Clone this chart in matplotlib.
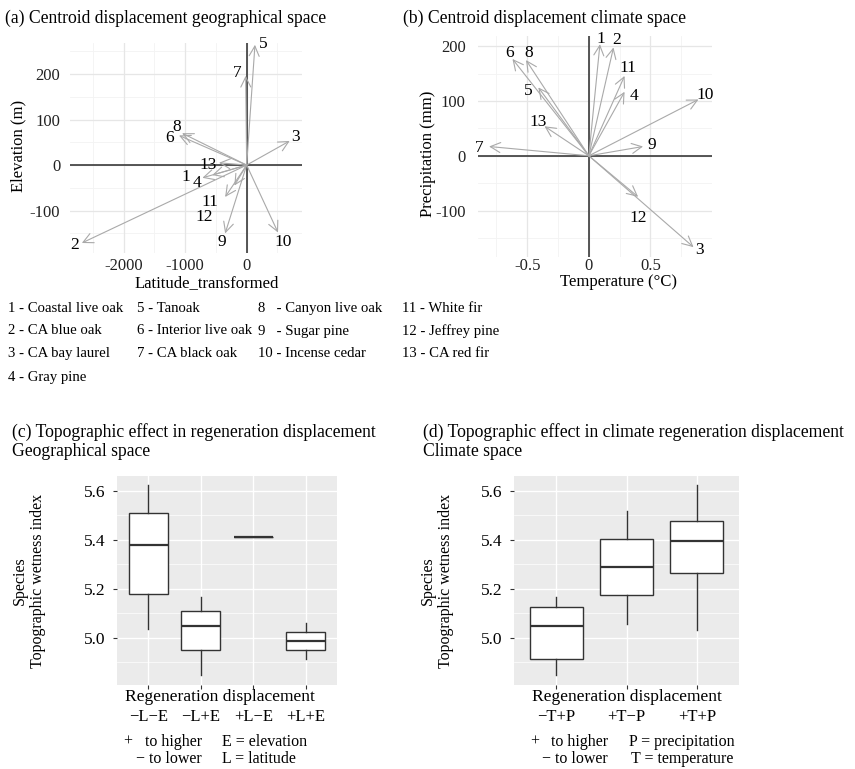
"""Four-panel figure: centroid displacement arrows and TWI boxplots."""
import matplotlib
matplotlib.use("Agg")
import matplotlib.pyplot as plt
import numpy as np

plt.rcParams["font.family"] = ["Liberation Serif", "DejaVu Serif"]
plt.rcParams["axes.unicode_minus"] = False

W, H = 855, 769

# ---- data -------------------------------------------------------------
species = ["Coastal live oak", "CA blue oak", "CA bay laurel", "Gray pine", "Tanoak",
           "Interior live oak", "CA black oak", "Canyon live oak", "Sugar pine",
           "Incense cedar", "White fir", "Jeffrey pine", "CA red fir"]
ids = [str(i) for i in range(1, 14)]

# (a) geographical space: latitude_transformed / elevation (m)
geo_dx = [-720, -2680, 700, -560, 135, -1100, -16, -1050, -350, 510, -350, -200, -450]
geo_dy = [-28, -171, 53, -22, 264, 65, 196, 70, -150, -148, -70, -45, 5]
geo_lx = [-986, -2792, 800, -808, 265, -1247, -158, -1133, -402, 590, -597, -694, -629]
geo_ly = [-26, -176, 62, -40, 266, 59, 202, 83, -169, -169, -81, -114, 0]

# (b) climate space: temperature (°C) / precipitation (mm)
clim_dx = [0.09, 0.20, 0.85, 0.29, -0.41, -0.62, -0.81, -0.51, 0.44, 0.89, 0.29, 0.40, -0.36]
clim_dy = [204, 198, -167, 117, 125, 177, 17, 175, 17, 103, 146, -75, 54]
clim_lx = [0.095, 0.225, 0.90, 0.37, -0.49, -0.64, -0.89, -0.49, 0.51, 0.945, 0.32, 0.40, -0.41]
clim_ly = [213, 212, -172, 110, 118, 188, 14, 188, 20, 112, 161, -114, 61]

# (c) TWI by geographic regeneration displacement
geo_groups = ["\u2212L\u2212E", "\u2212L+E", "+L\u2212E", "+L+E"]
geo_whislo = [5.034, 4.846, 5.412, 4.912]
geo_q1 = [5.178, 4.949, 5.412, 4.949]
geo_med = [5.378, 5.049, 5.412, 4.988]
geo_q3 = [5.508, 5.110, 5.412, 5.023]
geo_whishi = [5.622, 5.167, 5.412, 5.059]

# (d) TWI by climate regeneration displacement
clim_groups = ["\u2212T+P", "+T\u2212P", "+T+P"]
clim_whislo = [4.846, 5.056, 5.031]
clim_q1 = [4.912, 5.174, 5.265]
clim_med = [5.049, 5.287, 5.394]
clim_q3 = [5.124, 5.402, 5.478]
clim_whishi = [5.167, 5.518, 5.622]

TITLE = 12.7


def px(x, y):
    return x / W, 1 - y / H


def ftext(x, y, s, **kw):
    kw.setdefault("fontsize", 11)
    fig.text(*px(x, y), s, **kw)


def rect(l, t, r, b):
    return [l / W, 1 - b / H, (r - l) / W, (b - t) / H]


fig = plt.figure(figsize=(W / 100, H / 100), dpi=100, facecolor="white")

ARROW = dict(arrowstyle="->,head_length=0.6,head_width=0.3", color="#a9a9a9",
             lw=0.8, shrinkA=0, shrinkB=0, mutation_scale=12)


def arrow_panel(ax, dx, dy, lx, ly, xlim, ylim, xmaj, xmin, ymaj, ymin):
    ax.set_xlim(*xlim)
    ax.set_ylim(*ylim)
    for v in xmin:
        ax.axvline(v, color="#f3f3f3", lw=0.6, zorder=0)
    for v in ymin:
        ax.axhline(v, color="#f3f3f3", lw=0.6, zorder=0)
    for v in xmaj:
        ax.axvline(v, color="#e6e6e6", lw=0.9, zorder=0)
    for v in ymaj:
        ax.axhline(v, color="#e6e6e6", lw=0.9, zorder=0)
    ax.axhline(0, color="#3a3a3a", lw=1.2, zorder=1)
    ax.axvline(0, color="#3a3a3a", lw=1.2, zorder=1)
    for i in range(len(dx)):
        ax.annotate("", xy=(dx[i], dy[i]), xytext=(0, 0), arrowprops=ARROW, zorder=2)
        ax.text(lx[i], ly[i], ids[i], ha="center", va="center", fontsize=12.5, zorder=3)
    ax.set_xticks(xmaj)
    ax.set_yticks(ymaj)
    for s in ax.spines.values():
        s.set_visible(False)
    ax.tick_params(length=0, labelsize=12, colors="#222222")
    ax.patch.set_alpha(0)


# (a)
ax_a = fig.add_axes(rect(70, 43, 302, 253))
arrow_panel(ax_a, geo_dx, geo_dy, geo_lx, geo_ly, (-2873, 900), (-193, 268),
            [-2000, -1000, 0], [-2500, -1500, -500, 500],
            [-100, 0, 100, 200], [-150, -50, 50, 150, 250])
ax_a.tick_params(axis="y", pad=7)
ax_a.tick_params(axis="x", pad=3.5)
ftext(5, 18, "(a) Centroid displacement geographical space", va="center", fontsize=TITLE)
ftext(18, 146, "Elevation (m)", rotation=90, ha="center", va="center", fontsize=12)
ftext(207, 283, "Latitude_transformed", ha="center", va="center", fontsize=12)

# (b)
ax_b = fig.add_axes(rect(478, 36, 712, 257))
arrow_panel(ax_b, clim_dx, clim_dy, clim_lx, clim_ly, (-0.90, 1.0), (-185, 219),
            [-0.5, 0, 0.5], [-0.75, -0.25, 0.25, 0.75],
            [-100, 0, 100, 200], [-150, -50, 50, 150])
ax_b.set_xticklabels(["-0.5", "0", "0.5"])
ax_b.tick_params(axis="y", pad=9)
ax_b.tick_params(axis="x", pad=1)
ftext(403, 18, "(b) Centroid displacement climate space", va="center", fontsize=TITLE)
ftext(428, 154, "Precipitation (mm)", rotation=90, ha="center", va="center", fontsize=12)
ftext(618, 282, "Temperature (\u00b0C)", ha="center", va="center", fontsize=12)

# species key
key_cols = [(8, [0, 1, 2, 3]), (137, [4, 5, 6]), (258, [7, 8, 9]), (402, [10, 11, 12])]
key_rows = [309, 331, 354, 377]
for x0, idx in key_cols:
    for r, i in enumerate(idx):
        sep = "   - " if len(ids[i]) == 1 and i >= 7 else " - "
        ftext(x0, key_rows[r], ids[i] + sep + species[i], va="center", fontsize=10.6)


def box_panel(ax, groups, lo, q1, med, q3, hi):
    n = len(groups)
    pos = np.arange(1, n + 1)
    stats = [dict(whislo=lo[i], q1=q1[i], med=med[i], q3=q3[i], whishi=hi[i], fliers=[])
             for i in range(n)]
    ax.set_facecolor("#ebebeb")
    ax.set_xlim(0.4, n + 0.6)
    ax.set_ylim(4.807, 5.66)
    ax.set_yticks([5.0, 5.2, 5.4, 5.6])
    ax.set_yticks([4.9, 5.1, 5.3, 5.5], minor=True)
    ax.grid(which="major", color="white", lw=1.0)
    ax.grid(which="minor", axis="y", color="white", lw=0.5)
    ax.set_axisbelow(True)
    ax.bxp(stats, positions=pos, widths=0.75, showfliers=False, showcaps=False,
           patch_artist=True,
           boxprops=dict(facecolor="white", edgecolor="#333333", lw=1.0),
           medianprops=dict(color="#333333", lw=1.6),
           whiskerprops=dict(color="#333333", lw=1.0))
    ax.set_xticks(pos)
    ax.set_xticklabels(groups)
    for s in ax.spines.values():
        s.set_visible(False)
    ax.tick_params(which="major", length=3, color="#333333", labelsize=12)
    ax.tick_params(which="minor", length=0)
    ax.tick_params(axis="x", pad=14)
    ax.tick_params(axis="y", pad=5, labelsize=12.5)


# (c)
ax_c = fig.add_axes(rect(117, 476, 337, 685))
box_panel(ax_c, geo_groups, geo_whislo, geo_q1, geo_med, geo_q3, geo_whishi)
ftext(12, 432, "(c) Topographic effect in regeneration displacement", va="center", fontsize=TITLE)
ftext(12, 452, "Geographical space", va="center", fontsize=TITLE)
ftext(29, 581, "Species\nTopographic wetness index", rotation=90, ha="center",
      va="center", multialignment="center", fontsize=11.5, linespacing=1.2)
ftext(220, 697, "Regeneration displacement", ha="center", va="center", fontsize=12.6)
ftext(128, 742, "+", ha="center", va="center", fontsize=11.5)
ftext(202, 742, "to higher", ha="right", va="center", fontsize=11.5)
ftext(202, 759, "\u2212 to lower", ha="right", va="center", fontsize=11.5)
ftext(222, 742, "E = elevation", va="center", fontsize=11.5)
ftext(222, 759, "L = latitude", va="center", fontsize=11.5)

# (d)
ax_d = fig.add_axes(rect(514, 476, 739, 685))
box_panel(ax_d, clim_groups, clim_whislo, clim_q1, clim_med, clim_q3, clim_whishi)
ftext(423, 432, "(d) Topographic effect in climate regeneration displacement", va="center", fontsize=TITLE)
ftext(423, 452, "Climate space", va="center", fontsize=TITLE)
ftext(437, 581, "Species\nTopographic wetness index", rotation=90, ha="center",
      va="center", multialignment="center", fontsize=11.5, linespacing=1.2)
ftext(627, 697, "Regeneration displacement", ha="center", va="center", fontsize=12.6)
ftext(535, 742, "+", ha="center", va="center", fontsize=11.5)
ftext(608, 742, "to higher", ha="right", va="center", fontsize=11.5)
ftext(608, 759, "\u2212 to lower", ha="right", va="center", fontsize=11.5)
ftext(629, 742, "P = precipitation", va="center", fontsize=11.5)
ftext(631, 759, "T = temperature", va="center", fontsize=11.5)

fig.savefig("out.png", dpi=100)
